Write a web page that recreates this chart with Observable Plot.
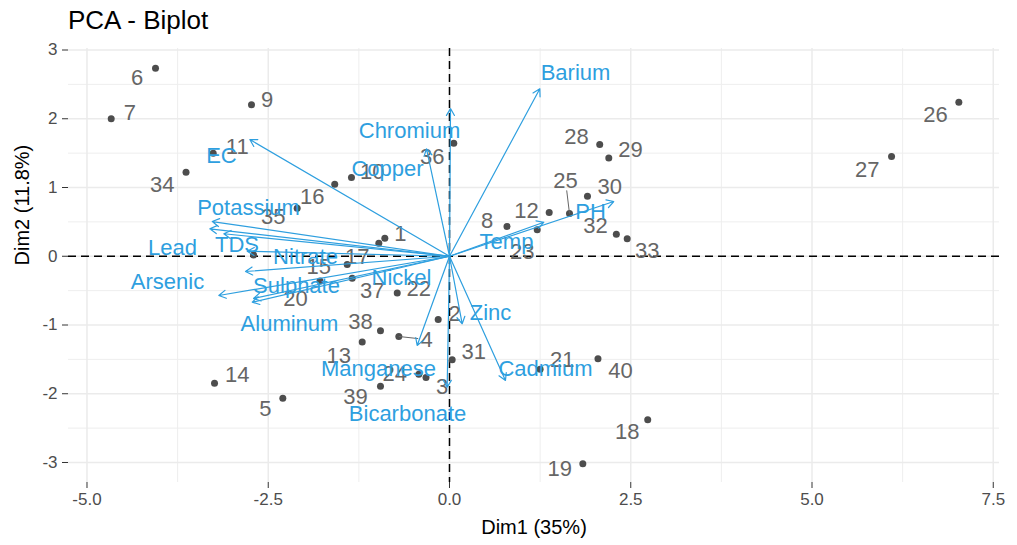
<!DOCTYPE html>
<html><head><meta charset="utf-8">
<script src="https://cdn.jsdelivr.net/npm/d3@7"></script>
<script src="https://cdn.jsdelivr.net/npm/@observablehq/plot@0.6"></script>
<style>
body{margin:0;background:#fff;font-family:"Liberation Sans",Arial,sans-serif;}
#title{height:40px;line-height:40px;font-size:26px;padding-left:68px;color:#000;white-space:nowrap;}
</style></head><body>
<div id="title"></div>
<div id="chart"></div>
<script>
const chartTitle = "PCA - Biplot";
const xTitle = "Dim1 (35%)";
const yTitle = "Dim2 (11.8%)";

const xTicks = [-5, -2.5, 0, 2.5, 5, 7.5];
const yTicks = [-3, -2, -1, 0, 1, 2, 3];
const xMinor = [-3.75, -1.25, 1.25, 3.75, 6.25];
const yMinor = [-2.5, -1.5, -0.5, 0.5, 1.5, 2.5];

// individuals (last one: unlabeled point)
const indLabels = ["1","2","3","4","5","6","7","8","9","10","11","12","13","14","15","16","17","18","19","20",
  "21","22","23","24","25","26","27","28","29","30","31","32","33","34","35","36","37","38","39","40",""];
const indDim1 = [-0.892,-0.156,-0.324,-0.699,-2.299,-4.055,-4.666,0.793,-2.731,-1.352,-3.259,1.375,-1.204,-3.241,-1.411,-1.583,-0.975,2.734,1.839,-1.786,
  1.250,-0.721,1.210,-0.423,1.655,7.025,6.097,2.072,2.197,1.903,0.037,2.301,2.451,-3.634,-2.101,0.059,-1.342,-0.952,-0.952,2.048,-2.703];
const indDim2 = [0.263,-0.920,-1.764,-1.167,-2.065,2.735,1.999,0.433,2.203,1.145,1.499,0.636,-1.247,-1.847,-0.120,1.048,0.190,-2.379,-3.019,-0.361,
  -1.643,-0.535,0.386,-1.716,0.622,2.241,1.451,1.625,1.429,0.873,-1.506,0.321,0.254,1.223,0.699,1.644,-0.319,-1.084,-1.892,-1.492,0.018];
// repelled label positions (data units)
const indLabelDim1 = [-0.676,0.069,-0.101,-0.317,-2.538,-4.308,-4.410,0.520,-2.514,-1.066,-2.928,1.062,-1.527,-2.928,-1.803,-1.894,-1.273,2.451,1.521,-2.124,
  1.554,-0.423,1.003,-0.754,1.600,6.703,5.761,1.752,2.497,2.211,0.335,2.014,2.727,-3.963,-2.432,-0.239,-1.066,-1.228,-1.297,2.359,null];
const indLabelDim2 = [0.327,-0.837,-1.905,-1.211,-2.219,2.596,2.081,0.520,2.276,1.223,1.586,0.655,-1.444,-1.724,-0.159,0.869,-0.014,-2.559,-3.092,-0.619,
  -1.506,-0.473,0.059,-1.710,1.102,2.062,1.257,1.732,1.548,1.004,-1.396,0.447,0.084,1.044,0.568,1.441,-0.508,-0.959,-2.050,-1.662,null];
const segmentLabels = ["4", "25"];

// variables
const varNames = ["Barium","Chromium","Copper","EC","Potassium","Lead","TDS","Nitrate","Arsenic","Sulphate","Nickel","Aluminum",
  "Manganese","Bicarbonate","Zinc","Cadmium","Temp","PH"];
const varDim1 = [1.246,0.014,-0.317,-2.754,-3.273,-3.306,-3.113,-2.790,-3.182,-2.814,-2.703,-2.721,-0.446,-0.032,0.175,0.772,1.301,2.266];
const varDim2 = [2.436,2.149,1.563,1.698,0.505,0.399,0.327,0.073,-0.571,-0.222,-0.615,-0.668,-1.298,-1.905,-0.983,-1.807,0.495,0.796];
const varLabelDim1 = [1.738,-0.552,-0.855,-3.145,-2.772,-3.821,-2.931,-1.986,-3.890,-2.110,-0.662,-2.207,-0.979,-0.579,0.566,1.324,0.786,1.945];
const varLabelDim2 = [2.668,1.829,1.272,1.465,0.709,0.127,0.171,-0.004,-0.367,-0.425,-0.309,-0.978,-1.633,-2.287,-0.818,-1.633,0.207,0.651];

document.getElementById("title").textContent = chartTitle;

const inds = indLabels.map((label, i) => ({label, x: indDim1[i], y: indDim2[i], lx: indLabelDim1[i], ly: indLabelDim2[i]}));
const vars = varNames.map((name, i) => ({name, x: varDim1[i], y: varDim2[i], lx: varLabelDim1[i], ly: varLabelDim2[i]}));
const segs = inds.filter(d => segmentLabels.includes(d.label));

const varColor = "#2E9FDF";
const indColor = "#666666";

const plot = Plot.plot({
  width: 1017, height: 505,
  marginLeft: 68, marginRight: 18, marginTop: 8, marginBottom: 63,
  x: {domain: [-5.255, 7.586]},
  y: {domain: [-3.291, 3.022]},
  style: {fontFamily: "'Liberation Sans', Arial, sans-serif", background: "#fff"},
  marks: [
    Plot.ruleX(xMinor, {stroke: "#EEEEEE", strokeWidth: 1}),
    Plot.ruleY(yMinor, {stroke: "#EEEEEE", strokeWidth: 1}),
    Plot.ruleX(xTicks, {stroke: "#EBEBEB", strokeWidth: 1.5}),
    Plot.ruleY(yTicks, {stroke: "#EBEBEB", strokeWidth: 1.5}),
    Plot.ruleX([0], {stroke: "#000", strokeWidth: 1.5, strokeDasharray: "8,5"}),
    Plot.ruleY([0], {stroke: "#000", strokeWidth: 1.5, strokeDasharray: "8,5"}),
    Plot.axisX({ticks: xTicks, tickFormat: d => d.toFixed(1), tickSize: 6, tickPadding: 4, fontSize: 17, stroke: "#333", fill: "#4D4D4D", label: null}),
    Plot.axisY({ticks: yTicks, tickFormat: d => String(d), tickSize: 6, tickPadding: 5, fontSize: 17, stroke: "#333", fill: "#4D4D4D", label: null}),
    Plot.text([xTitle], {text: d => d, frameAnchor: "bottom", dy: 45, fontSize: 20, fill: "#000", lineAnchor: "middle"}),
    Plot.text([yTitle], {text: d => d, frameAnchor: "left", dx: -46, rotate: -90, fontSize: 20, fill: "#000", lineAnchor: "middle"}),
    Plot.dot(inds, {x: "x", y: "y", r: 3.5, fill: "#4D4D4D", stroke: null}),
    Plot.link(segs, {x1: "x", y1: "y", x2: d => d.x + (d.lx - d.x) * 0.7, y2: d => d.y + (d.ly - d.y) * 0.7, stroke: indColor, strokeWidth: 1}),
    Plot.text(inds.filter(d => d.label !== ""), {x: "lx", y: "ly", text: "label", fill: indColor, fontSize: 22, textAnchor: "middle", lineAnchor: "middle"}),
    Plot.arrow(vars, {x1: d => 0, y1: d => 0, x2: "x", y2: "y", stroke: varColor, strokeWidth: 1.2, headLength: 10, headAngle: 60}),
    Plot.text(vars, {x: "lx", y: "ly", text: "name", fill: varColor, fontSize: 22, textAnchor: "middle", lineAnchor: "middle"})
  ]
});
document.getElementById("chart").appendChild(plot);
</script>
</body></html>
